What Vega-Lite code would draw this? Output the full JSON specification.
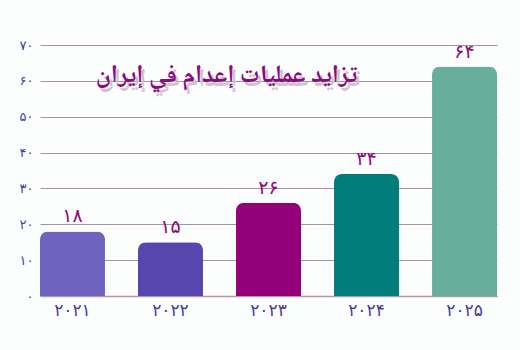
{
  "$schema": "https://vega.github.io/schema/vega-lite/v6.json",
  "width": 457,
  "height": 251,
  "autosize": {"type": "none"},
  "padding": {"left": 40, "top": 45, "right": 23, "bottom": 54},
  "background": "#fcfdfd",
  "datasets": {
    "bars": [
      {"year": "۲۰۲۱", "count": 18, "label": "۱۸", "color": "#6f63c0"},
      {"year": "۲۰۲۲", "count": 15, "label": "۱۵", "color": "#5746ae"},
      {"year": "۲۰۲۳", "count": 26, "label": "۲۶", "color": "#93007a"},
      {"year": "۲۰۲۴", "count": 34, "label": "۳۴", "color": "#007d7a"},
      {"year": "۲۰۲۵", "count": 64, "label": "۶۴", "color": "#67af9c"}
    ],
    "title": [{"year": "۲۰۲۲", "count": 62, "t": "تزايد عمليات إعدام في إيران"}]
  },
  "encoding": {
    "x": {"field": "year", "type": "nominal", "sort": null,
      "scale": {"paddingInner": 0.337, "paddingOuter": 0},
      "axis": {"title": null, "labelAngle": 0, "ticks": false, "domain": true, "domainColor": "#b09ab0", "domainWidth": 1.5,
        "labelColor": "#4a3aa8", "labelFontSize": 17, "labelFont": "DejaVu Sans", "labelPadding": 6}},
    "y": {"field": "count", "type": "quantitative",
      "scale": {"domain": [0, 70], "nice": false},
      "axis": {"title": null, "values": [0,10,20,30,40,50,60,70], "ticks": false, "domain": false, "labelOverlap": false,
        "gridColor": "#a890a8", "gridWidth": 1, "gridOpacity": 1,
        "labelColor": "#4a3aa8", "labelFontSize": 13, "labelFont": "DejaVu Sans", "labelPadding": 7,
        "labelExpr": "datum.value == 0 ? '۰' : ['', '۱', '۲', '۳', '۴', '۵', '۶', '۷'][datum.value / 10] + '۰'"}}
  },
  "layer": [
    {"data": {"name": "bars"},
     "mark": {"type": "bar", "cornerRadiusTopLeft": 8, "cornerRadiusTopRight": 8},
     "encoding": {"color": {"field": "color", "type": "nominal", "scale": null}}},
    {"data": {"name": "bars"},
     "mark": {"type": "text", "baseline": "bottom", "dy": -5, "fontSize": 19, "font": "DejaVu Sans", "color": "#8b0a7a"},
     "encoding": {"text": {"field": "label"}}},
    {"data": {"name": "title"},
     "mark": {"type": "text", "fontSize": 25, "fontWeight": "bold", "font": "Noto Naskh Arabic, DejaVu Sans", "color": "#d2c2ca", "dx": 59, "dy": 4},
     "encoding": {"text": {"field": "t"}}},
    {"data": {"name": "title"},
     "mark": {"type": "text", "fontSize": 25, "fontWeight": "bold", "font": "Noto Naskh Arabic, DejaVu Sans", "color": "#8b0a80", "dx": 56},
     "encoding": {"text": {"field": "t"}}}
  ],
  "config": {"view": {"stroke": null}}
}
